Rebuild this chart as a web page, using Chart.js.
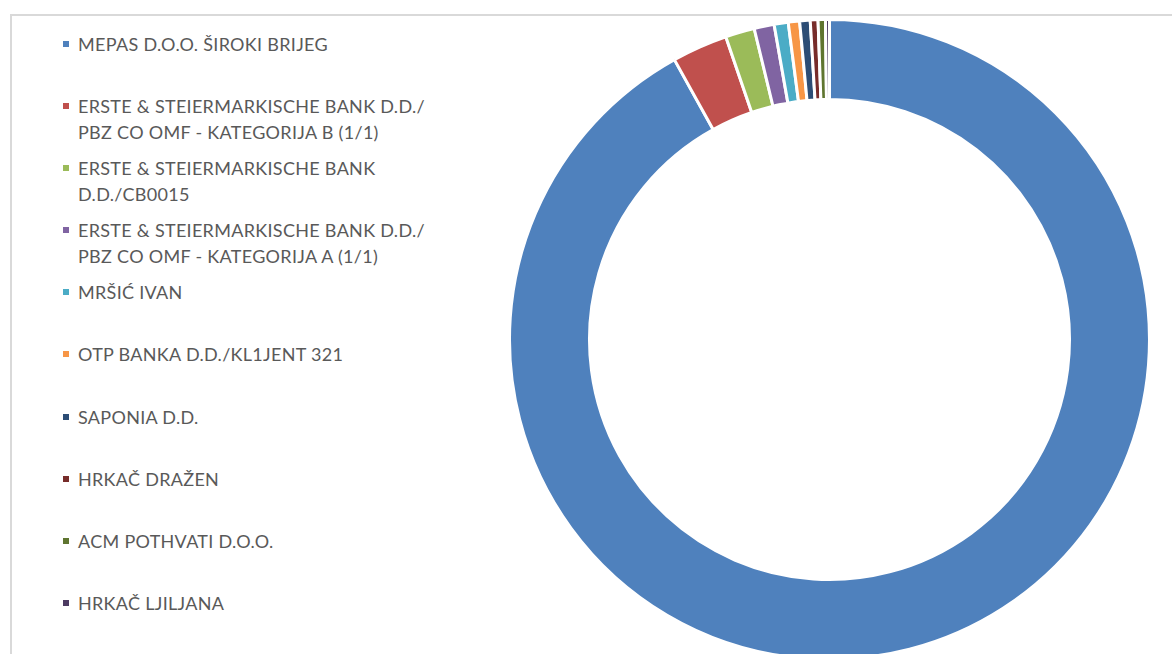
<!DOCTYPE html>
<html>
<head>
<meta charset="utf-8">
<script src="https://cdn.jsdelivr.net/npm/chart.js@4"></script>
<style>
    html, body {
        margin: 0;
        padding: 0;
        width: 1172px;
        height: 654px;
        overflow: hidden;
        background: #ffffff;
    }
    #frame {
        position: absolute;
        left: 10px;
        top: 14px;
        width: 1200px;
        height: 700px;
        border-left: 2px solid #d9d9d9;
        border-top: 2px solid #d9d9d9;
    }
    #legend {
        position: absolute;
        left: 63px;
        top: 31px;
        font-family: Lato, "Open Sans", sans-serif;
        font-size: 18px;
        letter-spacing: 0.3px;
        color: #595959;
    }
    .item {
        position: relative;
        height: 62.1px;
        padding-left: 15px;
        line-height: 26px;
        white-space: nowrap;
    }
    .box {
        position: absolute;
        left: 0;
        top: 10px;
        width: 6px;
        height: 6px;
    }
    #chartBox {
        position: absolute;
        left: 507.5px;
        top: 17.5px;
        width: 643px;
        height: 643px;
    }
</style>
</head>
<body>
<div id="frame"></div>
<div id="legend"></div>
<div id="chartBox"><canvas id="donut"></canvas></div>
<script>
// shareholders, each label split into the lines shown in the legend
const labels = [
    ['MEPAS D.O.O. ŠIROKI BRIJEG'],
    ['ERSTE & STEIERMARKISCHE BANK D.D./', 'PBZ CO OMF - KATEGORIJA B (1/1)'],
    ['ERSTE & STEIERMARKISCHE BANK', 'D.D./CB0015'],
    ['ERSTE & STEIERMARKISCHE BANK D.D./', 'PBZ CO OMF - KATEGORIJA A (1/1)'],
    ['MRŠIĆ IVAN'],
    ['OTP BANKA D.D./KL1JENT 321'],
    ['SAPONIA D.D.'],
    ['HRKAČ DRAŽEN'],
    ['ACM POTHVATI D.O.O.'],
    ['HRKAČ LJILJANA']
];

// share in %
const shares = [91.9, 2.8, 1.47, 1.01, 0.71, 0.57, 0.53, 0.39, 0.37, 0.2];

const colors = [
    '#4F81BD', '#C0504D', '#9BBB59', '#8064A2', '#4BACC6',
    '#F79646', '#2C4D75', '#772C2A', '#5F7530', '#4D3B62'
];

// legend on the left, one fixed slot per item like the original
const legend = document.getElementById('legend');
labels.forEach(function (lines, i) {
    const item = document.createElement('div');
    item.className = 'item';
    const box = document.createElement('span');
    box.className = 'box';
    box.style.background = colors[i];
    item.appendChild(box);
    lines.forEach(function (line, j) {
        if (j > 0) item.appendChild(document.createElement('br'));
        item.appendChild(document.createTextNode(line));
    });
    legend.appendChild(item);
});

const ctx = document.getElementById('donut').getContext('2d');
new Chart(ctx, {
    type: 'doughnut',
    data: {
        labels: labels.map(l => l.join(' ')),
        datasets: [{
            data: shares,
            backgroundColor: colors,
            borderColor: '#ffffff',
            borderWidth: 3
        }]
    },
    options: {
        responsive: true,
        maintainAspectRatio: false,
        animation: false,
        cutout: '75%',
        layout: { padding: 0 },
        plugins: {
            legend: { display: false },
            tooltip: { enabled: false }
        }
    }
});
</script>
</body>
</html>
